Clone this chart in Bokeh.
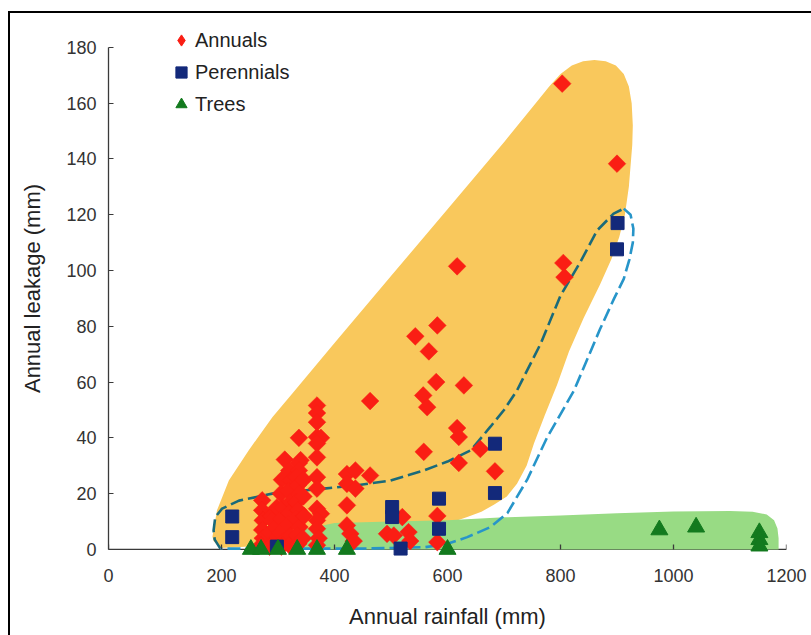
import math
from bokeh.plotting import figure
from bokeh.models import Range1d, FixedTicker, Legend, LegendItem, Span
from bokeh.embed import file_html
from bokeh.resources import INLINE

# ---- data ----
annual_rain = [272, 272, 273, 272, 273, 270,
               288, 290, 286, 292, 285, 296, 298,
               312, 307, 305, 308, 306, 304, 310, 306,
               320, 322, 318, 322, 320, 318, 322, 320,
               337, 340, 337, 337, 332, 335, 338, 333, 336, 332, 338, 334, 336,
               345, 345, 346, 344,
               369, 369, 369, 369, 376, 369, 369, 369, 369, 369, 376, 369, 369, 372, 369,
               422, 437, 422, 437, 422, 422, 428, 434,
               463, 463,
               493, 505, 520, 531, 534,
               543, 557, 558, 564, 567, 580, 582, 582, 582,
               617, 617, 620, 620, 629, 658, 684,
               803, 805, 807, 900]
annual_leak = [17.6, 14, 10.4, 7, 4, 1.5,
               12, 10.4, 6, 3, 1, 8, 15,
               32.2, 25, 20, 15, 11, 6, 3, 1,
               28.3, 24.7, 21, 17, 13, 9, 5, 1.5,
               40, 32, 31, 28.3, 26, 23, 20, 17, 14, 11, 8, 5, 2,
               25, 19, 12, 4,
               51.6, 48.9, 45.6, 40.3, 40, 38, 33, 25.9, 21.8, 14.6, 12.8, 10.4, 7.4, 4, 1.5,
               27, 28.3, 23.5, 21.8, 15.8, 8.6, 5.6, 3,
               53.2, 26.5,
               5.6, 5, 11.6, 6.2, 3,
               76.4, 55.2, 35, 51, 71, 60, 80.3, 12, 2.6,
               101.5, 43.5, 40.3, 31, 58.8, 36, 28,
               167, 102.7, 97.6, 138.3]

perennial_rain = [219, 219, 298, 502, 502, 517, 585, 585, 684, 684, 901, 900]
perennial_leak = [11.8, 4.4, 1, 15.2, 11.6, 0.3, 18.2, 7.4, 37.9, 20.2, 117, 107.6]

tree_rain = [252, 270, 300, 334, 369, 422, 600, 975, 1040, 1152, 1152, 1152]
tree_leak = [0, 0, 0, 0, 0, 0, 0, 7, 8, 6, 3.5, 1.2]

# envelopes (outline vertices, data units)
orange_rain = [198, 186, 184, 192, 213, 248, 290, 325, 400, 500, 600, 700, 760,
               780, 800, 820, 840, 860, 880, 898, 912, 921, 926, 928, 927, 925,
               921, 914, 904, 890, 870, 841, 815, 794, 772, 753,
               740, 723, 705, 682, 660, 635, 600, 570, 540, 450, 350, 250]
orange_leak = [0.5, 3, 4.5, 14, 24.7, 35.5, 47.4, 55.8, 74, 98, 122, 146, 161,
               166, 170.5, 173.5, 175, 175.5, 175, 173.5, 170.5, 166, 160, 152, 145, 140,
               130, 120, 112, 104, 95, 83, 71, 59, 48, 38,
               30, 23.5, 19, 16, 13.5, 11.6, 9.2, 7, 5, 3, 2, 1]

green_rain = [320, 317, 322, 340, 400, 500, 600, 700, 800, 900, 1000, 1100, 1140,
              1165, 1178, 1184, 1186, 1186]
green_leak = [0, 3, 5.5, 7, 9.5, 10, 10.5, 11.5, 12.2, 13, 13.6, 13.8, 13.5,
              12.5, 10.5, 7.5, 4, 0]

upper_rain = [198, 188, 186, 189, 201, 231, 290, 381, 440, 499, 558, 600, 641,
              676, 700, 723, 765, 800, 835, 865, 894, 912]
upper_leak = [0.3, 3.5, 6.8, 11.6, 14.6, 17.5, 20, 21.8, 23, 24.7, 28.3, 31.5, 35.5,
              44, 50, 57, 73.8, 91, 103, 114.4, 120.4, 122.2]

lower_rain = [912, 924, 929, 928, 922, 912, 895, 870, 824, 776, 741, 706, 676,
              635, 600, 560, 450, 300, 198]
lower_leak = [122.2, 120, 115, 110, 104, 97, 90, 79, 57, 40, 25, 13, 8,
              4.4, 2, 0.8, 0.3, 0.3, 0.3]

x_ticks = [0, 200, 400, 600, 800, 1000, 1200]
y_ticks = [0, 20, 40, 60, 80, 100, 120, 140, 160, 180]

FONT = "Liberation Sans"
AXIS_COL = "#3a3a3a"
RED = "#FA1E14"

p = figure(frame_width=678, frame_height=538,
           min_border_left=98, min_border_right=25,
           min_border_top=6, min_border_bottom=78,
           x_range=Range1d(0, 1200), y_range=Range1d(-2.9, 190),
           output_backend="svg", toolbar_location=None,
           background_fill_color="white", border_fill_color="white")
p.styles = {"border-left": "2px solid #000", "border-top": "2px solid #000",
            "margin-left": "8px", "margin-top": "11px"}
p.outline_line_color = None
p.grid.visible = False

# envelopes
p.patch(orange_rain, orange_leak, fill_color="#F9C85C", line_color=None)
p.patch(green_rain, green_leak, fill_color="#98DB84", line_color=None)
p.line(upper_rain, upper_leak, line_color="#1A6A7A", line_width=2.6, line_dash="13 5")
p.line(lower_rain, lower_leak, line_color="#2795C9", line_width=2.6, line_dash="13 5")

# x-axis line at zero with inward ticks
p.add_layout(Span(location=0, dimension="width", line_color=AXIS_COL, line_width=1.3,
                  level="underlay"))
p.segment(x0=x_ticks, y0=[0] * len(x_ticks), x1=x_ticks, y1=[1.8] * len(x_ticks),
          line_color=AXIS_COL, line_width=1.3)

# points (a diamond-shaped key renderer sits hidden under the annual markers)
r_ann_key = p.scatter(annual_rain, annual_leak, marker="diamond", size=10,
                      fill_color=RED, line_color=RED)
r_ann = p.scatter(annual_rain, annual_leak, marker="square", angle=math.pi / 4,
                  size=12.5, fill_color=RED, line_color=RED, line_width=0.5)
r_per = p.scatter(perennial_rain, perennial_leak, marker="square", size=13,
                  fill_color="#13297A", line_color="#13297A")
r_tree = p.scatter(tree_rain, tree_leak, marker="triangle", size=17,
                   fill_color="#137A1E", line_color="#137A1E")

# axes
for ax in (p.xaxis[0], p.yaxis[0]):
    ax.major_tick_in = 5
    ax.major_tick_out = 0
    ax.minor_tick_line_color = None
    ax.major_label_text_font = FONT
    ax.major_label_text_font_size = "18px"
    ax.major_label_text_color = "#333333"
    ax.axis_label_text_font = FONT
    ax.axis_label_text_font_size = "22px"
    ax.axis_label_text_font_style = "normal"
    ax.axis_label_text_color = "#222222"

p.yaxis.axis_line_color = AXIS_COL
p.yaxis.axis_line_width = 1.3
p.yaxis.major_tick_line_color = AXIS_COL
p.xaxis.axis_line_color = None
p.xaxis.major_tick_line_color = None

p.xaxis.ticker = FixedTicker(ticks=x_ticks)
p.yaxis.ticker = FixedTicker(ticks=y_ticks)
p.yaxis.bounds = (0, 180)
p.xaxis.major_label_standoff = 11
p.xaxis.axis_label_standoff = 19
p.yaxis.major_label_standoff = 12
p.yaxis.axis_label_standoff = 18
p.xaxis.axis_label = "Annual rainfall (mm)"
p.yaxis.axis_label = "Annual leakage (mm)"

legend = Legend(items=[LegendItem(label="Annuals", renderers=[r_ann_key]),
                       LegendItem(label="Perennials", renderers=[r_per]),
                       LegendItem(label="Trees", renderers=[r_tree])],
                location=(59, 437), glyph_width=28, glyph_height=32,
                label_height=32, label_standoff=0, spacing=0, padding=0, margin=0,
                label_text_font=FONT, label_text_font_size="20px",
                label_text_color="#222222",
                border_line_color=None, background_fill_alpha=0)
p.add_layout(legend)

open("out.html", "w").write(file_html(p, INLINE))
